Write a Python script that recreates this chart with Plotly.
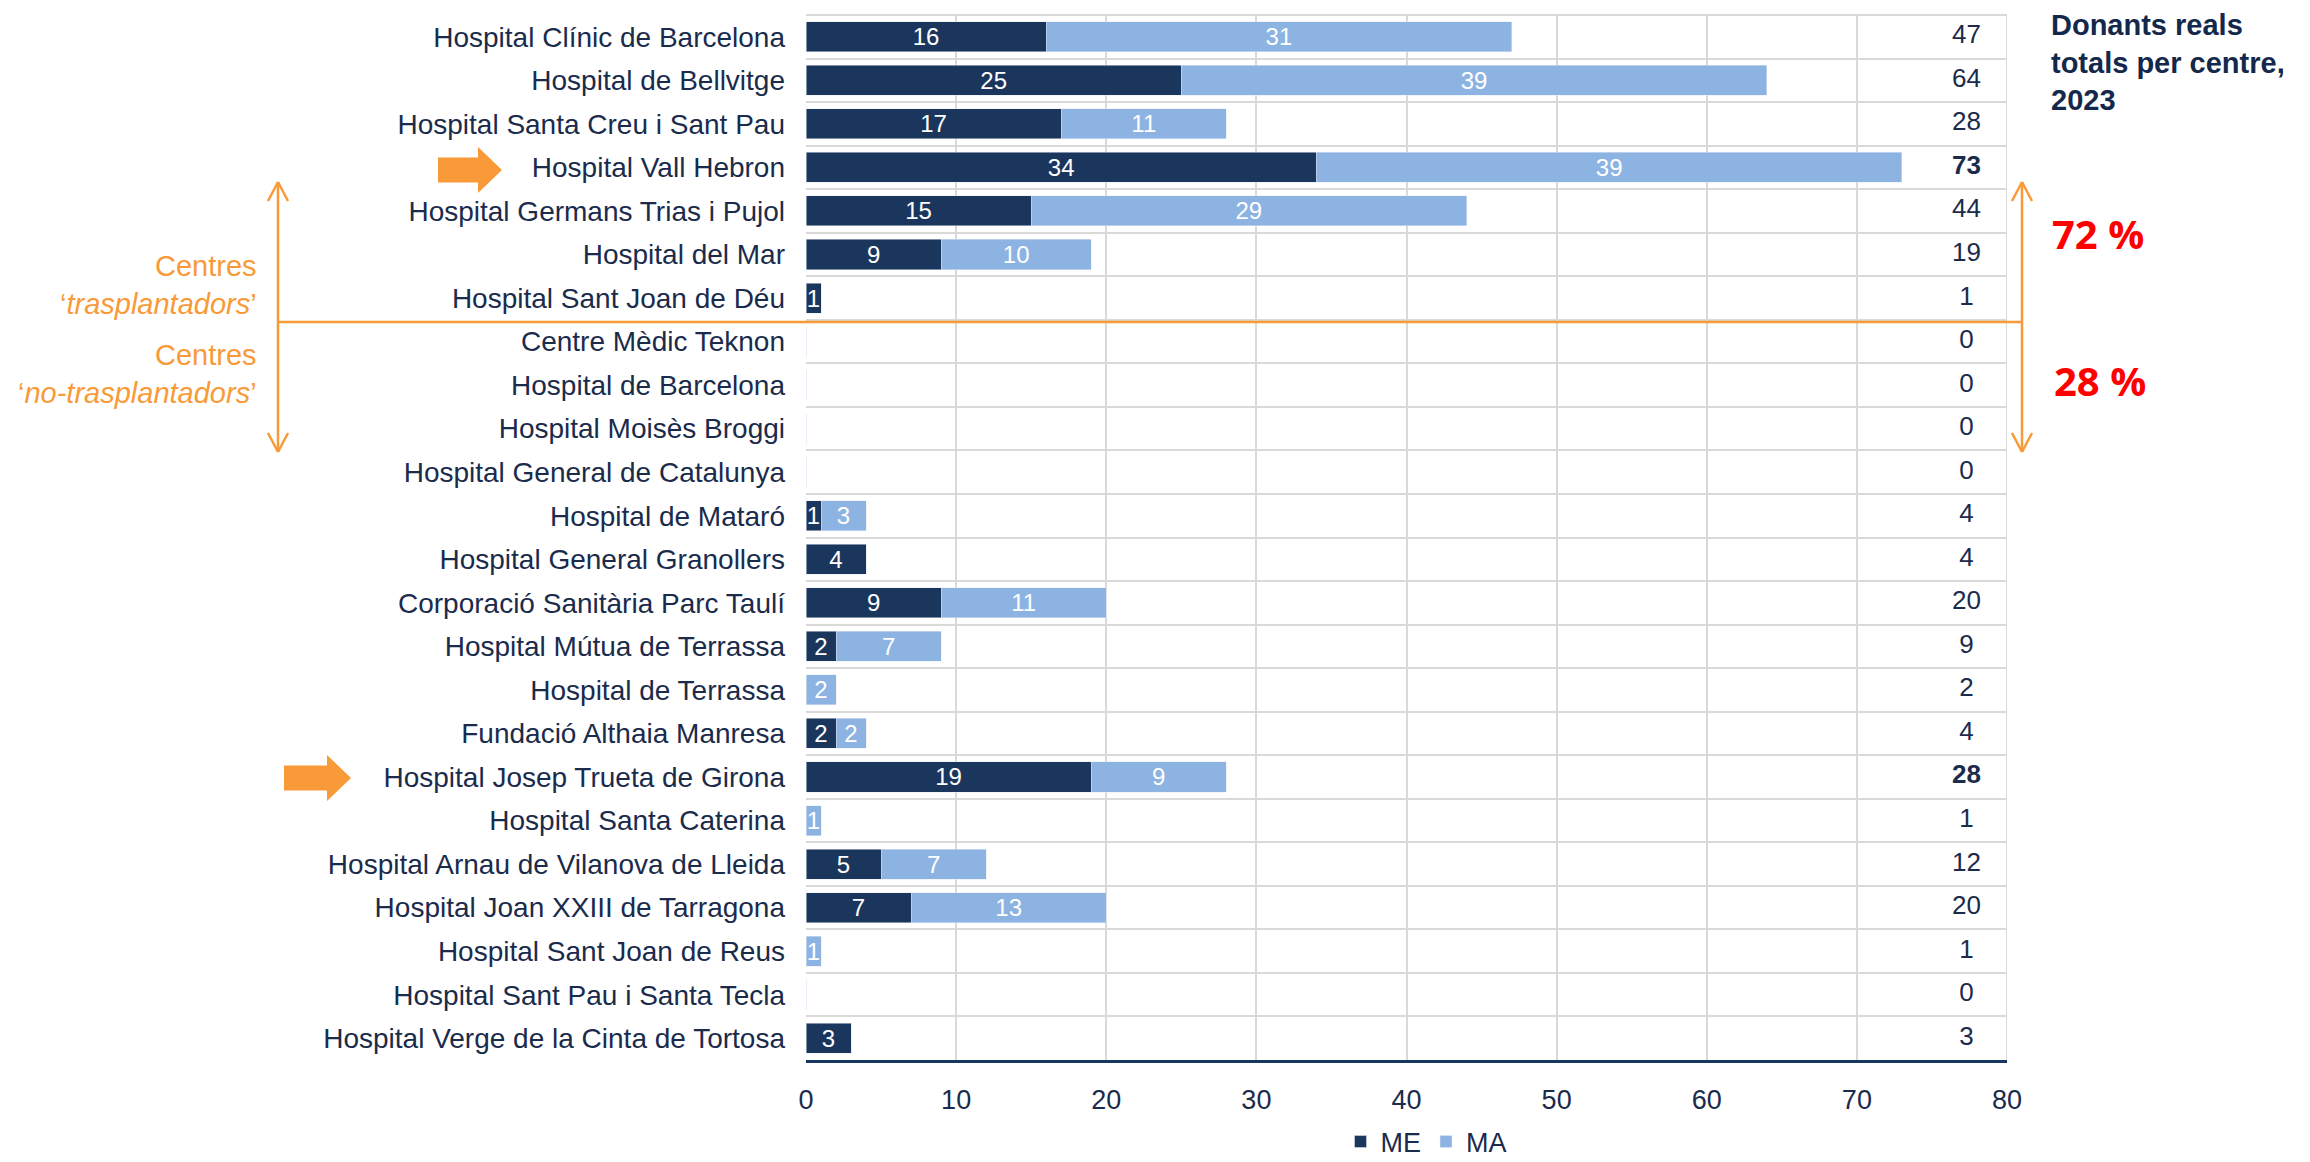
import plotly.graph_objects as go

hospitals = [
    "Hospital Clínic de Barcelona", "Hospital de Bellvitge", "Hospital Santa Creu i Sant Pau",
    "Hospital Vall Hebron", "Hospital Germans Trias i Pujol", "Hospital del Mar",
    "Hospital Sant Joan de Déu", "Centre Mèdic Teknon", "Hospital de Barcelona",
    "Hospital Moisès Broggi", "Hospital General de Catalunya", "Hospital de Mataró",
    "Hospital General Granollers", "Corporació Sanitària Parc Taulí", "Hospital Mútua de Terrassa",
    "Hospital de Terrassa", "Fundació Althaia Manresa", "Hospital Josep Trueta de Girona",
    "Hospital Santa Caterina", "Hospital Arnau de Vilanova de Lleida", "Hospital Joan XXIII de Tarragona",
    "Hospital Sant Joan de Reus", "Hospital Sant Pau i Santa Tecla", "Hospital Verge de la Cinta de Tortosa",
]
me_values = [16, 25, 17, 34, 15, 9, 1, 0, 0, 0, 0, 1, 4, 9, 2, 0, 2, 19, 0, 5, 7, 0, 0, 3]
ma_values = [31, 39, 11, 39, 29, 10, 0, 0, 0, 0, 0, 3, 0, 11, 7, 2, 2, 9, 1, 7, 13, 1, 0, 0]
totals = [47, 64, 28, 73, 44, 19, 1, 0, 0, 0, 0, 4, 4, 20, 9, 2, 4, 28, 1, 12, 20, 1, 0, 3]
bold_totals = {"Hospital Vall Hebron", "Hospital Josep Trueta de Girona"}
x_ticks = [0, 10, 20, 30, 40, 50, 60, 70, 80]

NAVY = "#1B365D"
LIGHT = "#8DB3E2"
TEXT = "#1A2B4C"
ORANGE = "#F99A38"
GRID = "#D9D9D9"
FONT = "Liberation Sans, Arial, sans-serif"

OFF = 8  # default page body margin
W, H = 2310 - OFF, 1162 - OFF
L, R, T, B = 806, 2007, 15, 1060  # plot area in page pixels


def px(x):
    return (x - L) / (R - L)


def py(y):
    return (B - y) / (B - T)


fig = go.Figure()
fig.add_trace(go.Bar(
    y=hospitals, x=me_values, name="ME", orientation="h", marker_color=NAVY,
    text=[str(v) if v else "" for v in me_values], textposition="inside",
    insidetextanchor="middle", textangle=0, textfont=dict(color="white", size=24, family=FONT),
    hoverinfo="x+y",
))
fig.add_trace(go.Bar(
    y=hospitals, x=ma_values, name="MA", orientation="h", marker_color=LIGHT,
    text=[str(v) if v else "" for v in ma_values], textposition="inside",
    insidetextanchor="middle", textangle=0, textfont=dict(color="white", size=24, family=FONT),
    hoverinfo="x+y",
))
fig.add_trace(go.Scatter(
    y=hospitals, x=[77.3] * len(hospitals), mode="text",
    text=[f"<b>{t}</b>" if h in bold_totals else str(t) for h, t in zip(hospitals, totals)],
    textfont=dict(color=TEXT, size=26, family=FONT), showlegend=False, cliponaxis=False,
    hoverinfo="skip",
))

shapes = []
shapes.append(dict(type="line", xref="x", yref="paper", x0=80, x1=80, y0=0, y1=1,
                   line=dict(color=GRID, width=2), layer="below"))
shapes.append(dict(type="line", xref="paper", yref="paper", x0=0, x1=1, y0=1, y1=1,
                   line=dict(color=GRID, width=2), layer="below"))


def seg(x0, y0, x1, y1, w=2.5):
    shapes.append(dict(type="line", xref="paper", yref="paper", x0=px(x0), y0=py(y0),
                       x1=px(x1), y1=py(y1), line=dict(color=ORANGE, width=w)))


for ax in (278, 2022):
    seg(ax, 182, ax, 452)
    seg(ax - 10, 201, ax, 182)
    seg(ax + 10, 201, ax, 182)
    seg(ax - 10, 433, ax, 452)
    seg(ax + 10, 433, ax, 452)
seg(278, 322, 2022, 322)


def block_arrow(x0, x1, yc, hh=23, sh=12.5, head=24):
    pts = [(x0, yc - sh), (x1 - head, yc - sh), (x1 - head, yc - hh), (x1, yc),
           (x1 - head, yc + hh), (x1 - head, yc + sh), (x0, yc + sh)]
    path = "M " + " L ".join(f"{px(a):.5f},{py(b):.5f}" for a, b in pts) + " Z"
    shapes.append(dict(type="path", xref="paper", yref="paper", path=path,
                       fillcolor=ORANGE, line=dict(width=0)))


block_arrow(438, 502, 170)
block_arrow(284, 351, 778)

annotations = [
    dict(text="<b>Donants reals<br>totals per centre,<br>2023</b>", x=px(2050), y=py(OFF),
         xref="paper", yref="paper", xanchor="left", yanchor="top", align="left", showarrow=False,
         borderpad=0, font=dict(size=29, color="#14284B", family=FONT)),
    dict(text="<b>72 %</b>", x=px(2050), y=py(233), xref="paper", yref="paper",
         xanchor="left", yanchor="middle", showarrow=False,
         font=dict(size=40, color="#FF0000", family="Open Sans, Liberation Sans, sans-serif")),
    dict(text="<b>28 %</b>", x=px(2052), y=py(380), xref="paper", yref="paper",
         xanchor="left", yanchor="middle", showarrow=False,
         font=dict(size=40, color="#FF0000", family="Open Sans, Liberation Sans, sans-serif")),
    dict(text="Centres", x=px(259), y=py(266), xref="paper", yref="paper",
         xanchor="right", yanchor="middle", showarrow=False,
         font=dict(size=29, color=ORANGE, family=FONT)),
    dict(text="‘<i>trasplantadors</i>’", x=px(259), y=py(304), xref="paper", yref="paper",
         xanchor="right", yanchor="middle", showarrow=False,
         font=dict(size=29, color=ORANGE, family=FONT)),
    dict(text="Centres", x=px(259), y=py(355), xref="paper", yref="paper",
         xanchor="right", yanchor="middle", showarrow=False,
         font=dict(size=29, color=ORANGE, family=FONT)),
    dict(text="‘<i>no-trasplantadors</i>’", x=px(259), y=py(393), xref="paper", yref="paper",
         xanchor="right", yanchor="middle", showarrow=False,
         font=dict(size=29, color=ORANGE, family=FONT)),
]

fig.update_layout(
    width=W, height=H, barmode="stack", bargap=0.31,
    margin=dict(l=L - OFF, r=2310 - R, t=T - OFF, b=1162 - B, autoexpand=False),
    plot_bgcolor="white", paper_bgcolor="white",
    font=dict(family=FONT, color=TEXT),
    uniformtext=dict(minsize=24, mode="show"),
    xaxis=dict(range=[0, 80], tickvals=x_ticks, showgrid=True, gridcolor=GRID, gridwidth=2,
               zeroline=False, showline=True, linecolor="#17375E", linewidth=3,
               ticks="", ticklabelstandoff=14, tickfont=dict(size=27, color=TEXT)),
    yaxis=dict(type="category", range=[len(hospitals) - 0.5, -0.5], tickson="boundaries",
               showgrid=True, gridcolor=GRID, gridwidth=2, zeroline=False, ticks="",
               showline=False, ticklabelstandoff=20, tickfont=dict(size=28, color=TEXT)),
    legend=dict(orientation="h", x=px(1426), xanchor="center", y=py(1142), yanchor="middle",
                font=dict(size=27, color=TEXT), itemwidth=30, traceorder="normal"),
    shapes=shapes, annotations=annotations,
)

fig.write_html("out.html")
